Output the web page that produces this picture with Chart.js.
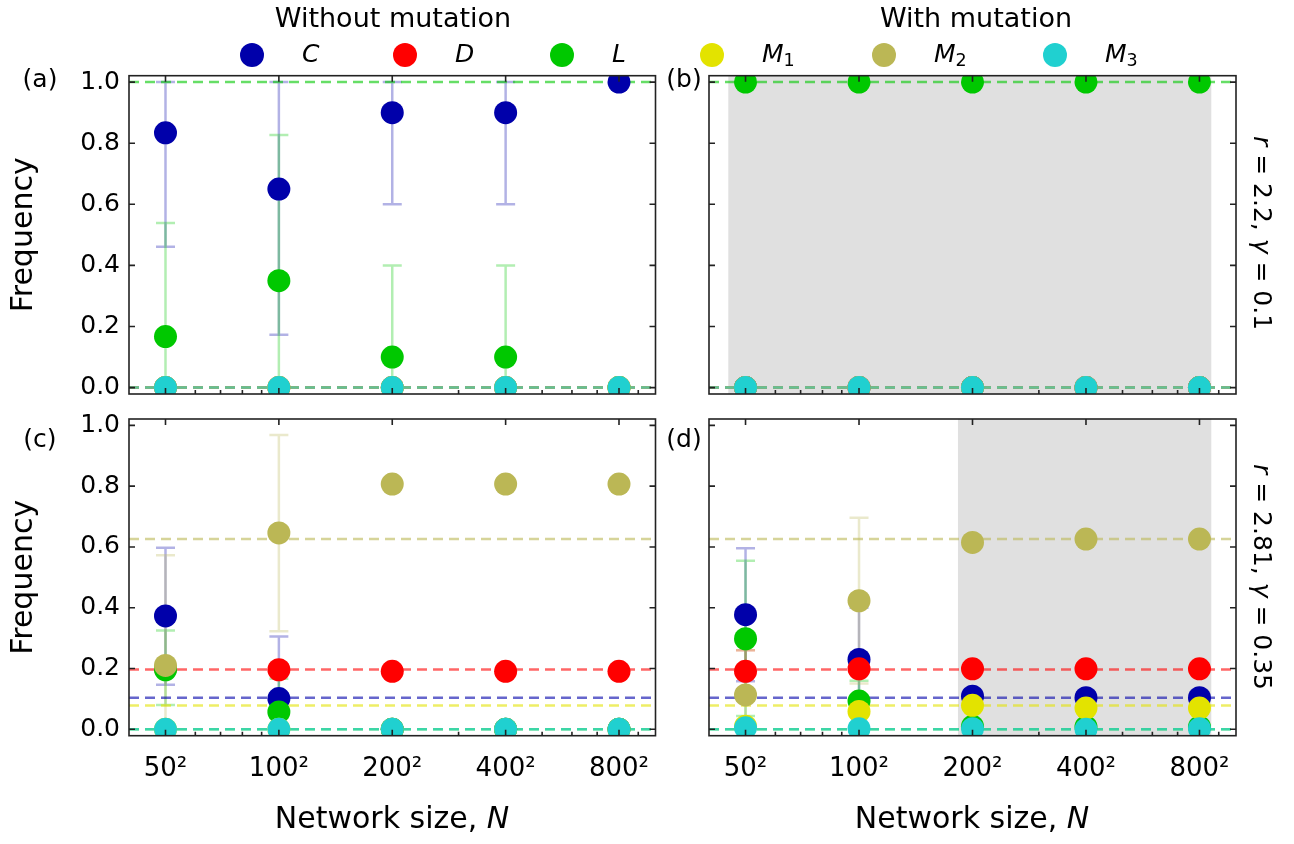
<!DOCTYPE html>
<html>
<head>
<meta charset="utf-8">
<script src="https://cdn.jsdelivr.net/npm/chart.js@4.4.0/dist/chart.umd.min.js"></script>
<style>
  body { margin: 0; background: #fff; font-family: "DejaVu Sans", sans-serif; }
  #wrap { position: relative; width: 1294px; height: 844px; overflow: hidden; }
  #wrap canvas { position: absolute; left: 0; top: 0; }
  .txt { position: absolute; white-space: nowrap; color: #000; line-height: 1; }
  .mid { transform: translate(-50%, -50%); }
  .rot { transform: translate(-50%, -50%) rotate(90deg); }
  .dot { position: absolute; width: 24px; height: 24px; border-radius: 50%; transform: translate(-50%, -50%); }
  sub { font-size: 70%; vertical-align: -0.25em; font-style: normal; }
</style>
</head>
<body>
<div id="wrap">
  <canvas id="pa" width="1294" height="844"></canvas>
  <canvas id="pb" width="1294" height="844"></canvas>
  <canvas id="pc" width="1294" height="844"></canvas>
  <canvas id="pd" width="1294" height="844"></canvas>

  <div class="txt mid" style="left:393px;top:17px;font-size:27px;">Without mutation</div>
  <div class="txt mid" style="left:976px;top:17px;font-size:27px;">With mutation</div>
  <div id="legend"></div>

  <div class="txt mid" style="left:40px;top:78px;font-size:25px;">(a)</div>
  <div class="txt mid" style="left:684px;top:78px;font-size:25px;">(b)</div>
  <div class="txt mid" style="left:40px;top:438px;font-size:25px;">(c)</div>
  <div class="txt mid" style="left:684px;top:438px;font-size:25px;">(d)</div>

  <div class="txt rot" style="left:1262px;top:233px;font-size:25px;"><i>r</i> = 2.2, <i>γ</i> = 0.1</div>
  <div class="txt rot" style="left:1262px;top:577px;font-size:25px;"><i>r</i> = 2.81, <i>γ</i> = 0.35</div>

  <div class="txt mid" style="left:392px;top:818px;font-size:30px;">Network size, <i>N</i></div>
  <div class="txt mid" style="left:972px;top:818px;font-size:30px;">Network size, <i>N</i></div>
</div>

<script>
const sides = [50, 100, 200, 400, 800];
const tickLabels = ['50²', '100²', '200²', '400²', '800²'];
const minorSides = [60, 70, 80, 90, 300, 500, 600, 700, 900];
const yTicks = [0, 0.2, 0.4, 0.6, 0.8, 1.0];
const names = ['C', 'D', 'L', 'M1', 'M2', 'M3'];
const colors = ['#0000aa', '#ff0000', '#00c800', '#e3e300', '#bbb755', '#20d0d0'];

// (a) without mutation, r = 2.2
const aC = [0.834, 0.65, 0.9, 0.9, 1.0];
const aD = [0, 0, 0, 0, 0];
const aL = [0.167, 0.35, 0.1, 0.1, 0];
const aM1 = [0, 0, 0, 0, 0];
const aM2 = [0, 0, 0, 0, 0];
const aM3 = [0, 0, 0, 0, 0];
const aCErr = [[0.461, 1.0], [0.173, 1.0], [0.6, 1.0], [0.6, 1.0], null];
const aLErr = [[0, 0.539], [0, 0.827], [0, 0.4], [0, 0.4], null];

// (b) with mutation, r = 2.2
const bC = [0, 0, 0, 0, 0];
const bD = [0, 0, 0, 0, 0];
const bL = [1, 1, 1, 1, 1];
const bM1 = [0, 0, 0, 0, 0];
const bM2 = [0, 0, 0, 0, 0];
const bM3 = [0, 0, 0, 0, 0];

// (c) without mutation, r = 2.81
const cC = [0.373, 0.101, 0, 0, 0];
const cD = [0.2, 0.196, 0.191, 0.191, 0.191];
const cL = [0.196, 0.057, 0, 0, 0];
const cM1 = [0, 0, 0, 0, 0];
const cM2 = [0.21, 0.646, 0.807, 0.807, 0.807];
const cM3 = [0, 0, 0, 0, 0];
const cCErr = [[0.147, 0.597], [0, 0.305], null, null, null];
const cLErr = [[0.08, 0.325], [0, 0.166], null, null, null];
const cM2Err = [[0, 0.573], [0.323, 0.968], null, null, null];

// (d) with mutation, r = 2.81
const dC = [0.377, 0.23, 0.109, 0.104, 0.104];
const dD = [0.191, 0.199, 0.199, 0.199, 0.199];
const dL = [0.298, 0.093, 0.01, 0.008, 0.008];
const dM1 = [0.01, 0.059, 0.079, 0.07, 0.07];
const dM2 = [0.113, 0.423, 0.615, 0.626, 0.626];
const dM3 = [0.005, 0.002, 0.002, 0, 0.002];
const dCErr = [[0.158, 0.596], [0.08, 0.4], null, null, null];
const dDErr = [[0.13, 0.26], null, null, null, null];
const dLErr = [[0.044, 0.555], [0, 0.16], null, null, null];
const dM2Err = [[0.03, 0.26], [0.151, 0.696], null, null, null];

// dashed reference levels (C, D, L, M1, M2, M3)
const row1Levels = [0, 0, 1, 0, 0, 0];
const row2Levels = [0.104, 0.197, 0, 0.078, 0.626, 0];

// shaded ranges of network side
const bSpan = [45, 860];
const dSpan = [183, 860];

const xMin = 40, xMax = 1000;
const yMin = -0.021, yMax = 1.021;

function rgba(hex, a) {
  const n = parseInt(hex.slice(1), 16);
  return `rgba(${n >> 16},${(n >> 8) & 255},${n & 255},${a})`;
}

// legend
const legendX = [252, 405, 562, 712, 884, 1055];
const legendLabels = ['<i>C</i>', '<i>D</i>', '<i>L</i>', '<i>M</i><sub>1</sub>', '<i>M</i><sub>2</sub>', '<i>M</i><sub>3</sub>'];
let lg = '';
names.forEach((n, k) => {
  lg += `<div class="dot" style="left:${legendX[k]}px;top:55px;background:${colors[k]}"></div>`;
  lg += `<div class="txt" style="left:${legendX[k] + 50}px;top:41px;font-size:25px;">${legendLabels[k]}</div>`;
});
document.getElementById('legend').innerHTML = lg;

function decor(span) {
  return {
    id: 'decor',
    beforeDatasetsDraw(chart) {
      const { ctx, chartArea: a, scales: { x, y } } = chart;
      ctx.save();
      if (span) {
        const x0 = x.getPixelForValue(span[0]), x1 = x.getPixelForValue(span[1]);
        ctx.fillStyle = '#e0e0e0';
        ctx.fillRect(x0, a.top, x1 - x0, a.bottom - a.top);
      }
      ctx.beginPath();
      ctx.rect(a.left, a.top, a.right - a.left, a.bottom - a.top);
      ctx.clip();
      chart.data.datasets.forEach(d => {
        if (!d.errs) return;
        ctx.strokeStyle = rgba(d.backgroundColor, 0.3);
        ctx.lineWidth = 2.5;
        d.errs.forEach((e, i) => {
          if (!e) return;
          const px = x.getPixelForValue(sides[i]);
          const lo = y.getPixelForValue(e[0]), hi = y.getPixelForValue(e[1]);
          ctx.beginPath();
          ctx.moveTo(px, lo); ctx.lineTo(px, hi);
          ctx.moveTo(px - 9.5, lo); ctx.lineTo(px + 9.5, lo);
          ctx.moveTo(px - 9.5, hi); ctx.lineTo(px + 9.5, hi);
          ctx.stroke();
        });
      });
      ctx.restore();
    },
    afterDraw(chart) {
      const { ctx, chartArea: a, scales: { x, y } } = chart;
      ctx.save();
      ctx.strokeStyle = '#222';
      ctx.lineWidth = 1.6;
      ctx.strokeRect(a.left, a.top, a.right - a.left, a.bottom - a.top);
      ctx.lineWidth = 1.6;
      ctx.beginPath();
      yTicks.forEach(v => {
        const py = y.getPixelForValue(v);
        ctx.moveTo(a.left, py); ctx.lineTo(a.left + 6, py);
        ctx.moveTo(a.right, py); ctx.lineTo(a.right - 6, py);
      });
      sides.forEach(v => {
        const px = x.getPixelForValue(v);
        ctx.moveTo(px, a.top); ctx.lineTo(px, a.top + 6);
        ctx.moveTo(px, a.bottom); ctx.lineTo(px, a.bottom - 6);
      });
      minorSides.forEach(v => {
        const px = x.getPixelForValue(v);
        ctx.moveTo(px, a.bottom); ctx.lineTo(px, a.bottom - 4);
      });
      ctx.stroke();
      ctx.restore();
    }
  };
}

function panel(id, p) {
  const ds = [];
  names.forEach((n, k) => {
    ds.push({
      type: 'line', order: 30 - k,
      data: [{ x: xMin, y: p.levels[k] }, { x: xMax, y: p.levels[k] }],
      borderColor: rgba(colors[k], 0.6), borderWidth: 2.5, borderDash: [10, 6],
      pointRadius: 0, tension: 0, fill: false
    });
  });
  names.forEach((n, k) => {
    ds.push({
      type: 'scatter', label: n, order: 6 - k,
      data: sides.map((s, i) => ({ x: s, y: p.vals[k][i] })),
      errs: p.errs[k],
      backgroundColor: colors[k], borderWidth: 0,
      pointRadius: 11.5, pointHoverRadius: 11.5
    });
  });

  const left = p.col === 0 ? 129 : 709;
  const right = p.col === 0 ? 655.5 : 1236;
  const top = p.row === 0 ? 75.7 : 419;
  const bottom = p.row === 0 ? 394 : 735.7;
  const yW = p.col === 0 ? 129 : 10;
  const xH = p.row === 0 ? 10 : 60;

  new Chart(document.getElementById(id), {
    data: { datasets: ds },
    options: {
      responsive: false,
      animation: false,
      events: [],
      layout: {
        autoPadding: false,
        padding: { left: left - yW, right: 1294 - right, top: top, bottom: 844 - bottom - xH }
      },
      plugins: { legend: { display: false }, tooltip: { enabled: false } },
      scales: {
        x: {
          type: 'logarithmic', min: xMin, max: xMax,
          afterBuildTicks: s => { s.ticks = sides.map(v => ({ value: v })); },
          afterFit: s => { s.height = xH; },
          grid: { display: false, drawTicks: false },
          border: { display: false },
          ticks: {
            display: p.row === 1, autoSkip: false, maxRotation: 0, padding: 18,
            color: '#000', font: { family: 'DejaVu Sans', size: 26 },
            callback: (v, i) => tickLabels[i]
          }
        },
        y: {
          type: 'linear', min: yMin, max: yMax,
          afterBuildTicks: s => { s.ticks = yTicks.map(v => ({ value: v })); },
          afterFit: s => { s.width = yW; },
          grid: { display: false, drawTicks: false },
          border: { display: false },
          ticks: {
            display: p.col === 0, padding: 9,
            color: '#000', font: { family: 'DejaVu Sans', size: 25 },
            callback: v => v.toFixed(1)
          },
          title: {
            display: p.col === 0, text: 'Frequency', color: '#000',
            font: { family: 'DejaVu Sans', size: 30 }, padding: { top: 6, bottom: 0 }
          }
        }
      }
    },
    plugins: [decor(p.span)]
  });
}

panel('pa', { row: 0, col: 0, vals: [aC, aD, aL, aM1, aM2, aM3],
  errs: [aCErr, null, aLErr, null, null, null], levels: row1Levels, span: null });
panel('pb', { row: 0, col: 1, vals: [bC, bD, bL, bM1, bM2, bM3],
  errs: [null, null, null, null, null, null], levels: row1Levels, span: bSpan });
panel('pc', { row: 1, col: 0, vals: [cC, cD, cL, cM1, cM2, cM3],
  errs: [cCErr, null, cLErr, null, cM2Err, null], levels: row2Levels, span: null });
panel('pd', { row: 1, col: 1, vals: [dC, dD, dL, dM1, dM2, dM3],
  errs: [dCErr, dDErr, dLErr, null, dM2Err, null], levels: row2Levels, span: dSpan });
</script>
</body>
</html>
